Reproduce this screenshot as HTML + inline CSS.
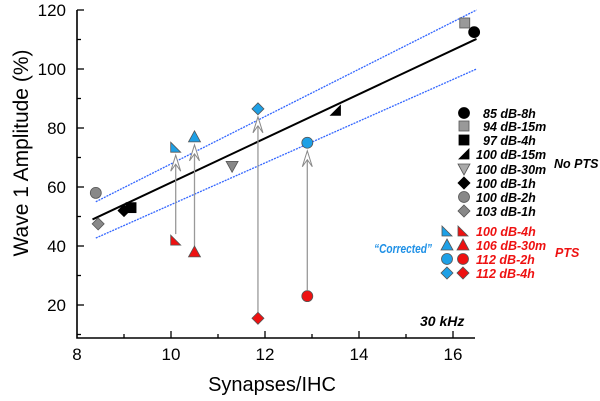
<!DOCTYPE html>
<html><head><meta charset="utf-8"><style>
body{margin:0;background:#fff}
svg{display:block;font-family:"Liberation Sans",Arial,sans-serif}
.leg{font-style:italic;font-weight:bold;font-size:12.5px}
</style></head><body>
<svg id="chart" width="600" height="401" viewBox="0 0 600 401">
<g id="axes"></g>
<g id="lines"></g>
<g id="arrows"></g>
<g id="points"></g>
<g id="legend"></g>
<text transform="translate(28,153) rotate(-90)" text-anchor="middle" font-size="21">Wave 1 Amplitude (%)</text>
<text x="272" y="391" text-anchor="middle" font-size="20">Synapses/IHC</text>
<text class="leg" x="374" y="253" fill="#1e90e6" textLength="58" lengthAdjust="spacingAndGlyphs">“Corrected”</text>
<text class="leg" x="554" y="168" fill="#000">No PTS</text>
<text class="leg" x="555" y="257" fill="#e11">PTS</text>
<text class="leg" x="420" y="326" style="font-size:14px">30 kHz</text>
</svg>
<script>
const xTicks=[8,10,12,14,16];
const yTicks=[20,40,60,80,100,120];
// points: [x, y]
const ptX=[8.4,8.45,9.0,9.15,10.1,10.1,10.5,10.5,11.3,11.85,11.85,12.9,12.9,13.5,16.25,16.45];
const ptY=[58,47.5,52,53,42,73.5,38,77,67,15.5,86.5,23,75,86,115.6,112.5];
const ptShape=['circle','diamond','diamond','square','ltri','ltri','tri','tri','dtri','diamond','diamond','circle','circle','rtri','square','circle'];
const ptColor=['#888','#888','#000','#000','#e11','#1ea0e6','#e11','#1ea0e6','#888','#e11','#1ea0e6','#e11','#1ea0e6','#000','#999','#000'];
const arrowFrom=[4,6,9,11];
const arrowTo=[5,7,10,12];
const fitX=[8.33,16.5]; const fitY=[49,110.2];
const upX=[8.4,16.5]; const upY=[55,120];
const loX=[8.4,16.5]; const loY=[42.7,100];
const legLabels=['85 dB-8h','94 dB-15m','97 dB-4h','100 dB-15m','100 dB-30m','100 dB-1h','100 dB-2h','103 dB-1h'];
const legShapes=['circle','square','square','rtri','dtri','diamond','circle','diamond'];
const legColors=['#000','#999','#000','#000','#aaa','#000','#888','#888'];
const ptsLabels=['100 dB-4h','106 dB-30m','112 dB-2h','112 dB-4h'];
const ptsShapes=['ltri','tri','circle','diamond'];

const NS='http://www.w3.org/2000/svg';
const X=v=>77+(v-8)*47;
const Y=v=>10+(120-v)*2.95;
function mk(t,a,p){const e=document.createElementNS(NS,t);for(const k in a)e.setAttribute(k,a[k]);p.appendChild(e);return e;}
const ax=document.getElementById('axes');
let e=mk('path',{d:`M77,10 V338 H475`,fill:'none',stroke:'#000','stroke-width':1.6},ax);

for(let v=10;v<=120;v+=10){const l=mk('line',{x1:77,x2:77+(v%20==0?7:4),y1:Y(v),y2:Y(v),stroke:'#000','stroke-width':1.3},ax);
}
for(let v=9;v<=16;v+=1){const l=mk('line',{x1:X(v),x2:X(v),y1:338,y2:338-(v%2==0?7:4),stroke:'#000','stroke-width':1.3},ax);
}
yTicks.forEach(v=>{const t=mk('text',{x:66,y:Y(v)+6,'text-anchor':'end','font-size':17},ax);t.textContent=v;
});
xTicks.forEach(v=>{const t=mk('text',{x:X(v),y:360,'text-anchor':'middle','font-size':17},ax);t.textContent=v;
});
const ln=document.getElementById('lines');
e=mk('line',{x1:X(fitX[0]),y1:Y(fitY[0]),x2:X(fitX[1]),y2:Y(fitY[1]),stroke:'#000','stroke-width':2},ln);

e=mk('line',{x1:X(upX[0]),y1:Y(upY[0]),x2:X(upX[1]),y2:Y(upY[1]),stroke:'#3366ff','stroke-width':1.3,'stroke-dasharray':'2,1'},ln);

e=mk('line',{x1:X(loX[0]),y1:Y(loY[0]),x2:X(loX[1]),y2:Y(loY[1]),stroke:'#3366ff','stroke-width':1.3,'stroke-dasharray':'2,1'},ln);

const ar=document.getElementById('arrows');
arrowFrom.forEach((f,i)=>{const x=X(ptX[f]),y1=Y(ptY[f])-6,y2=Y(ptY[arrowTo[i]])+8;
const g=mk('g',{},ar);
mk('line',{x1:x,x2:x,y1:y1,y2:y2+8,stroke:'#999','stroke-width':1.3},g);
mk('path',{d:`M${x},${y2} L${x+5},${y2+16} L${x},${y2+9} L${x-5},${y2+16} Z`,fill:'#fff',stroke:'#888','stroke-width':1},g);});
function shape(s,x,y,c,p){const a={fill:c,stroke:c=='#000'?'#000':'#555','stroke-width':0.8};let el;
if(s=='circle')el=mk('circle',Object.assign({cx:x,cy:y,r:5.5},a),p);
else if(s=='square')el=mk('rect',Object.assign({x:x-5,y:y-5,width:10,height:10},a),p);
else if(s=='diamond')el=mk('path',Object.assign({d:`M${x},${y-6} L${x+6},${y} L${x},${y+6} L${x-6},${y} Z`},a),p);
else if(s=='tri')el=mk('path',Object.assign({d:`M${x},${y-6} L${x+6},${y+5} L${x-6},${y+5} Z`},a),p);
else if(s=='dtri')el=mk('path',Object.assign({d:`M${x-6},${y-5} L${x+6},${y-5} L${x},${y+6} Z`},a),p);
else if(s=='ltri')el=mk('path',Object.assign({d:`M${x-5},${y-5} L${x+5},${y+5} L${x-5},${y+5} Z`},a),p);
else el=mk('path',Object.assign({d:`M${x+5},${y-5} L${x+5},${y+5} L${x-5},${y+5} Z`},a),p);
return el;}
const pg=document.getElementById('points');
ptX.forEach((v,i)=>{const el=shape(ptShape[i],X(v),Y(ptY[i]),ptColor[i],pg);
});
const lg=document.getElementById('legend');
const rows=[113,126,140,154,169,183,197,211];
legLabels.forEach((t,i)=>{const el=shape(legShapes[i],464,rows[i],legColors[i],lg);

const tx=mk('text',{x:t.startsWith('100')||t.startsWith('103')?476:483,y:rows[i]+5,class:'leg'},lg);tx.textContent=t;
});
const prow=[231,245,259,273];
ptsLabels.forEach((t,i)=>{let el=shape(ptsShapes[i],447,prow[i],'#1ea0e6',lg);

el=shape(ptsShapes[i],463,prow[i],'#e11',lg);

const tx=mk('text',{x:476,y:prow[i]+5,class:'leg',fill:'#e11'},lg);tx.textContent=t;
});
</script>
</body></html>
